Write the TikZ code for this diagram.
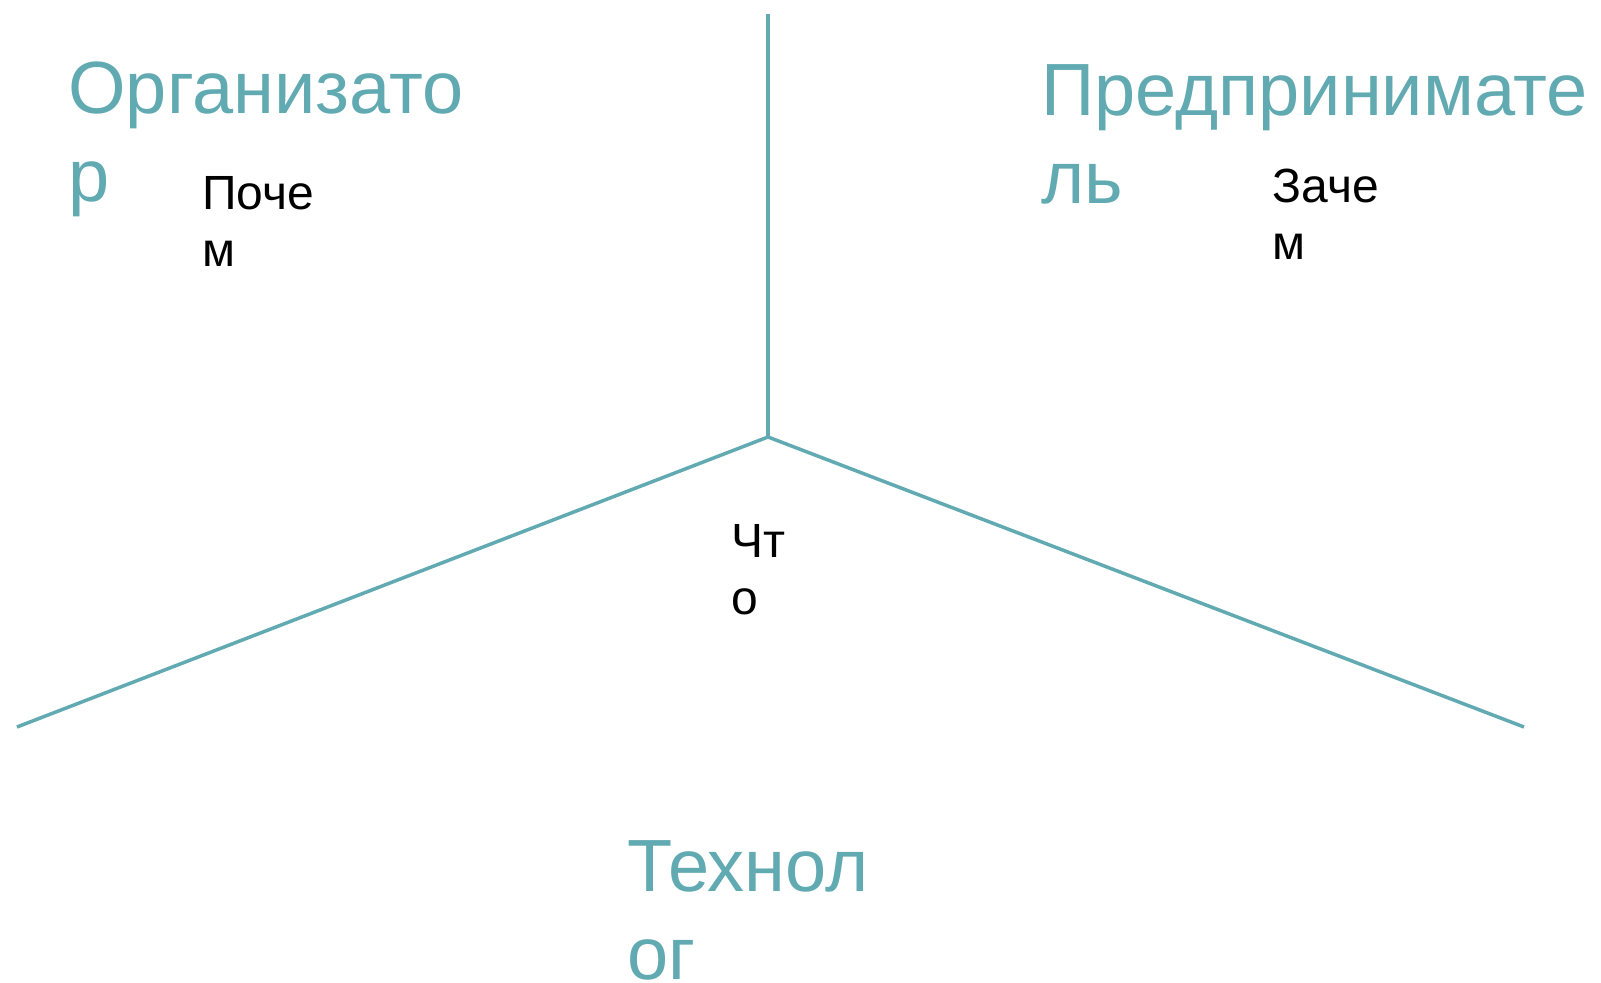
\documentclass[tikz,border=0pt]{standalone}
\usepackage{fontspec}
\setmainfont{Liberation Sans}
\definecolor{tealline}{RGB}{97,170,178}

\begin{document}
\begin{tikzpicture}[x=0.5pt, y=-0.5pt,
	role/.style={anchor=base west, inner sep=0pt, align=left, text=tealline, font=\fontsize{37}{44}\selectfont},
	ask/.style={anchor=base west, inner sep=0pt, align=left, font=\fontsize{24}{28.5}\selectfont},
	axis/.style={draw=tealline, line width=1.75pt}]
			%%%%% START %%%%%
			\useasboundingbox (0, 0) rectangle (1601, 983);
			
			\coordinate (centre) at (768, 437);
			\coordinate (top) at (768, 14);
			\coordinate (left) at (17, 727);
			\coordinate (right) at (1524, 727);
			
			\draw[axis] (top) -- (centre);
			\draw[axis] (left) -- (centre) -- (right);
			
			\node[role] (organiser) at (68, 202) {Организато\\р};
			\node[ask] (why) at (202, 267) {Поче\\м};
			
			\node[role] (entrepreneur) at (1041, 204) {Предпринимате\\ль};
			\node[ask] (whatfor) at (1272, 260) {Заче\\м};
			
			\node[ask] (what) at (731, 615) {Чт\\о};
			\node[role] (technologist) at (627, 979) {Технол\\ог};
			
			%%%%% END %%%%%
\end{tikzpicture}
\end{document}
